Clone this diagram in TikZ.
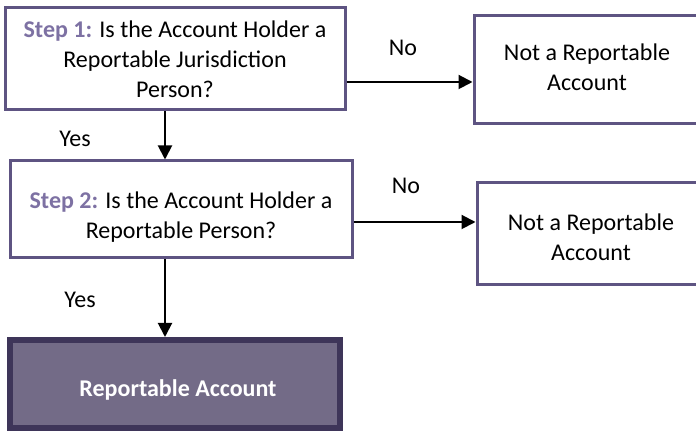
\documentclass[tikz,border=0pt]{standalone}
\usepackage{fontspec}
\setmainfont{Carlito}
\definecolor{boxpurple}{RGB}{94, 84, 130}
\definecolor{steppurple}{RGB}{125, 113, 163}
\definecolor{darkpurple}{RGB}{62, 53, 89}
\definecolor{fillpurple}{RGB}{115, 107, 135}
\usetikzlibrary{arrows.meta, positioning, calc}

\begin{document}
\begin{tikzpicture}[
  x=0.5pt, y=-0.5pt,
  every node/.style={font=\fontsize{12}{15}\selectfont},
  qbox/.style={draw=boxpurple, line width=1.5pt, fill=white, align=center, inner sep=0pt},
  endbox/.style={draw=darkpurple, fill=fillpurple, line width=3pt, text=white, font=\fontsize{12}{15}\selectfont\bfseries},
  arr/.style={-{Triangle[length=7pt, width=7pt]}, line width=1pt, black},
  lbl/.style={inner sep=0pt},
]
  \useasboundingbox (0,0) rectangle (696,431);
  \clip (0,0) rectangle (696,431);

  % question boxes
  \node[qbox, minimum width=170pt, minimum height=51pt] (step1) at (175,59)
    {\textcolor{steppurple}{\textbf{Step 1:}} Is the Account Holder a\\ Reportable Jurisdiction\\ Person?};
  \node[qbox, minimum width=171pt, minimum height=48.5pt] (step2) at (181,209.5)
    {\rule{0pt}{16pt}\textcolor{steppurple}{\textbf{Step 2:}} Is the Account Holder a\\ Reportable Person?};

  % outcome boxes
  \node[qbox, minimum width=113pt, minimum height=54pt] (notrep1) at (587,70)
    {Not a Reportable\\ Account\rule[-3pt]{0pt}{3pt}};
  \node[qbox, minimum width=114pt, minimum height=51pt] (notrep2) at (591,234)
    {\rule{0pt}{12pt}Not a Reportable\\ Account};
  \node[endbox, minimum width=165pt, minimum height=44pt] (rep) at (175,384)
    {\hspace{3pt}\rule{0pt}{14.5pt}Reportable Account};

  % connectors
  \draw[arr] ([yshift=-11.5pt]step1.east) -- ([yshift=-11.5pt]step1.east -| notrep1.west);
  \draw[arr] ([yshift=-6.25pt]step2.east) -- ([yshift=-6.25pt]step2.east -| notrep2.west);
  \draw[arr] ([xshift=-5pt]step1.south) -- ([xshift=-5pt]step1.south |- step2.north);
  \draw[arr] ([xshift=-8pt]step2.south) -- ([xshift=-8pt]step2.south |- rep.north);

  \node[lbl] (no1) at (403,48) {No};
  \node[lbl] (yes1) at (75,139) {Yes};
  \node[lbl] (no2) at (406,186) {No};
  \node[lbl] (yes2) at (80,300) {Yes};
\end{tikzpicture}
\end{document}
